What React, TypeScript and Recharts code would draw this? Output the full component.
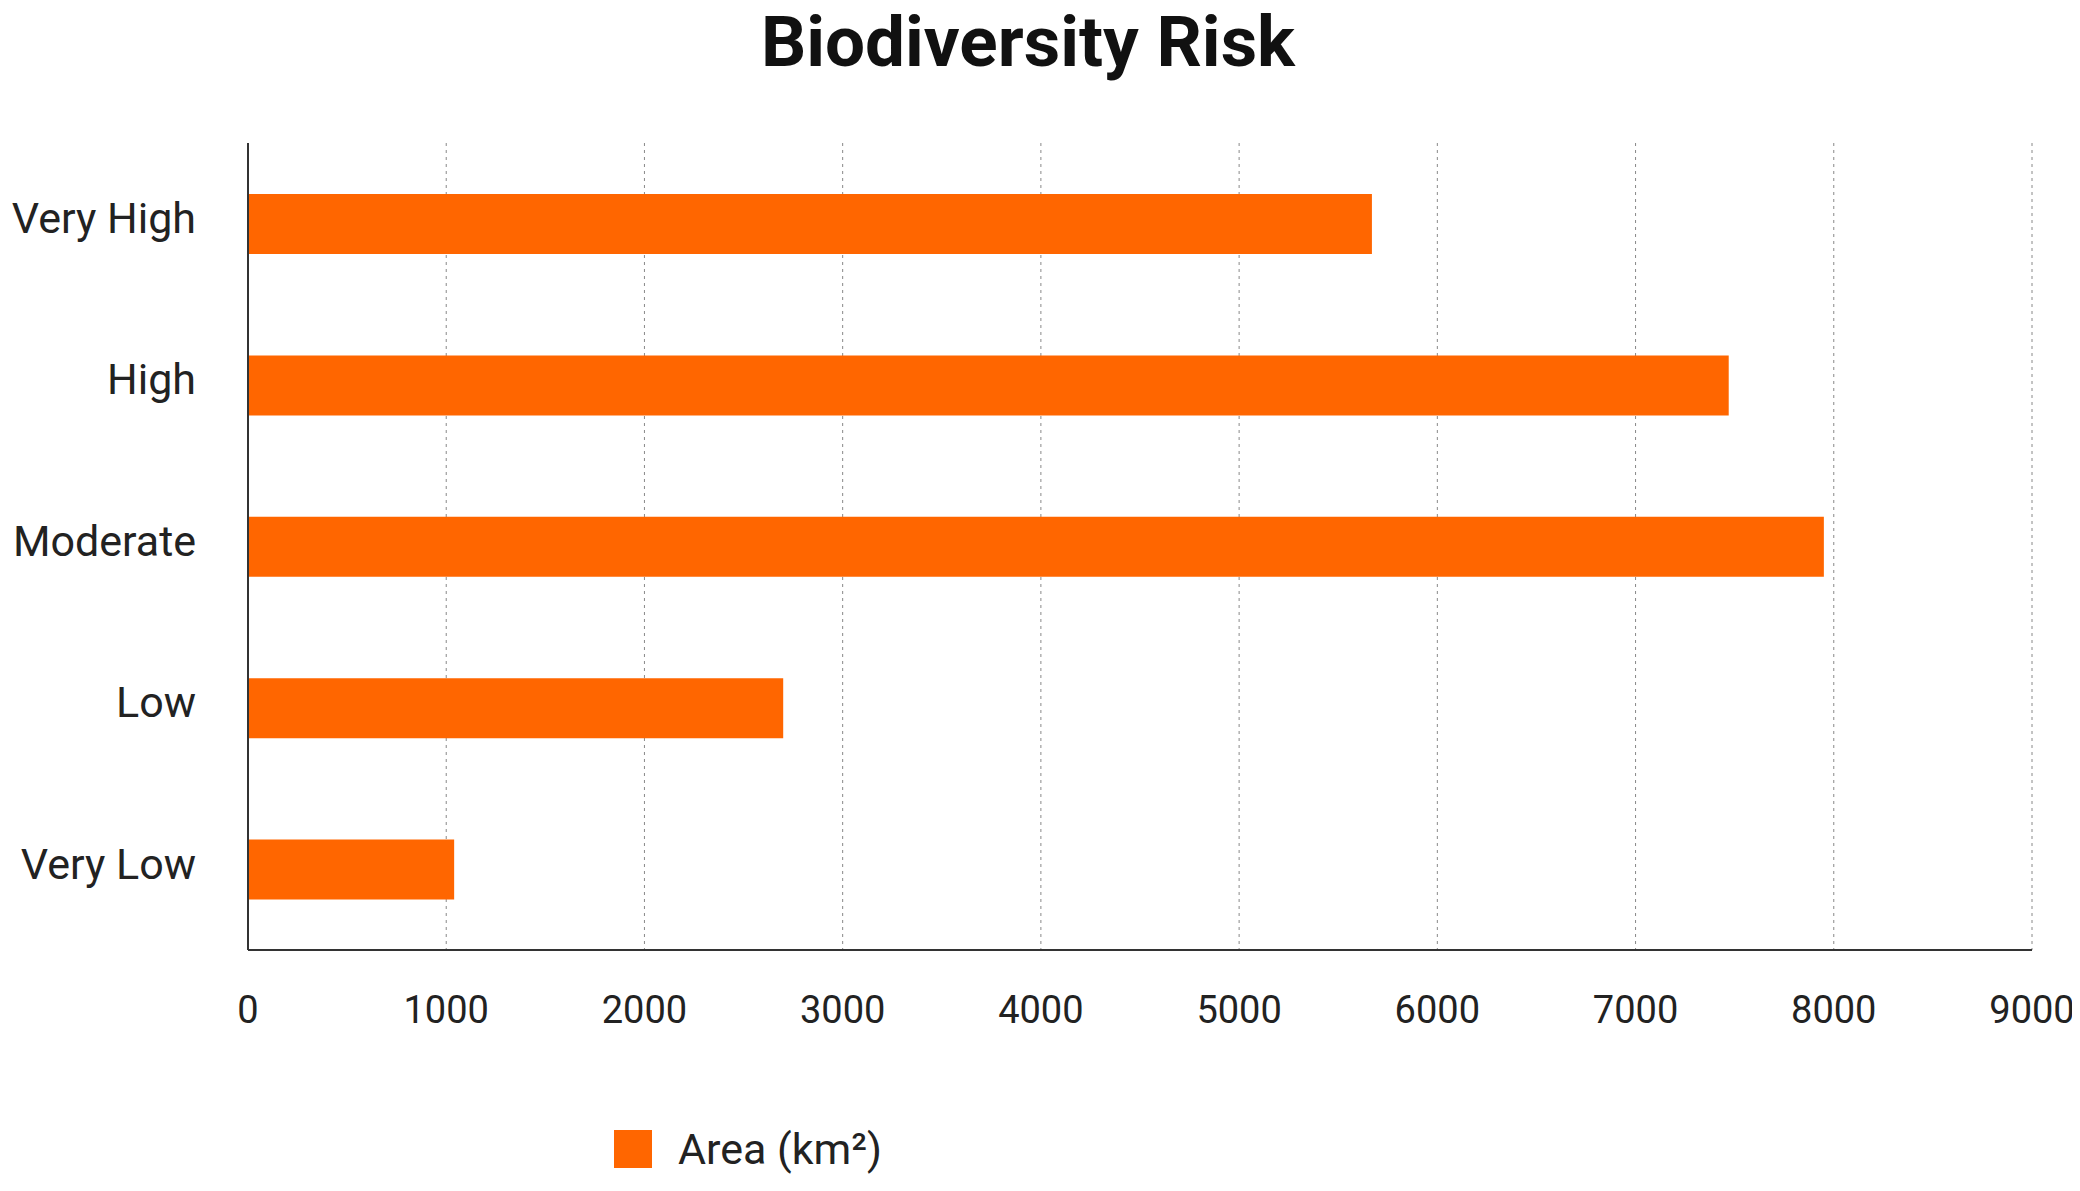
import React from "react";
import { BarChart, Bar, XAxis, YAxis, CartesianGrid } from "recharts";

const categories = ["Very High", "High", "Moderate", "Low", "Very Low"];
const areaValues = [5670, 7470, 7950, 2700, 1040];
const xTicks = [0, 1000, 2000, 3000, 4000, 5000, 6000, 7000, 8000, 9000];

const data = categories.map((c, i) => ({ name: c, area: areaValues[i] }));

export default function App() {
  const font = "Roboto, 'Liberation Sans', Arial, sans-serif";
  return (
    <div style={{ position: "relative", width: 2080, height: 1191, margin: -8, background: "#fff", fontFamily: font }}>
      <div style={{ position: "absolute", top: 0, left: 0, width: 2056, textAlign: "center", fontSize: 71, fontWeight: 700, color: "#111" }}>
        Biodiversity Risk
      </div>
      <BarChart
        width={2080}
        height={1191}
        data={data}
        layout="vertical"
        margin={{ top: 143, right: 48, bottom: 181, left: 0 }}
      >
        <CartesianGrid horizontal={false} vertical stroke="#888" strokeDasharray="3 4" />
        <XAxis
          type="number"
          domain={[0, 9000]}
          ticks={xTicks}
          height={60}
          tickLine={false}
          tickMargin={40}
          axisLine={{ stroke: "#333", strokeWidth: 2 }}
          tick={{ fill: "#222", fontSize: 38, fontFamily: font }}
          interval={0}
        />
        <YAxis
          type="category"
          dataKey="name"
          width={248}
          tickLine={false}
          tickMargin={46}
          axisLine={{ stroke: "#333", strokeWidth: 2 }}
          tick={{ fill: "#222", fontSize: 43, fontFamily: font, dy: -6 }}
        />
        <Bar dataKey="area" fill="#FF6600" barSize={60} isAnimationActive={false} />
      </BarChart>
      <div style={{ position: "absolute", top: 1124, left: 614, display: "flex", alignItems: "center", fontSize: 43, color: "#222" }}>
        <span style={{ display: "inline-block", width: 38, height: 38, background: "#FF6600", marginRight: 26 }} />
        Area (km²)
      </div>
    </div>
  );
}
